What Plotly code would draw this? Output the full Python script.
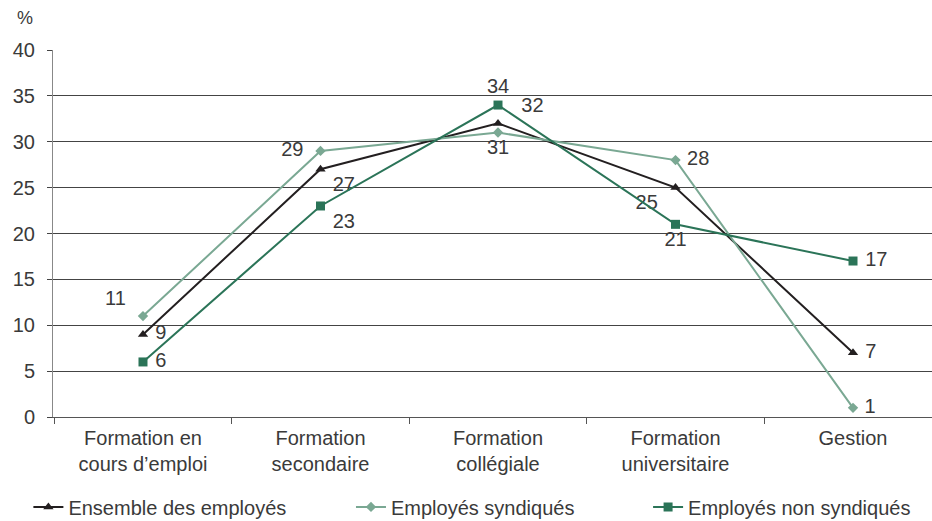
import plotly.graph_objects as go

categories = ["Formation en<br>cours d’emploi", "Formation<br>secondaire", "Formation<br>collégiale",
              "Formation<br>universitaire", "Gestion"]
ensemble = [9, 27, 32, 25, 7]
syndiques = [11, 29, 31, 28, 1]
non_syndiques = [6, 23, 34, 21, 17]

pos_ensemble = ["middle right", "bottom right", "top right", "bottom left", "middle right"]
pos_synd = ["top left", "middle left", "bottom center", "middle right", "middle right"]
pos_non = ["middle right", "bottom right", "top center", "bottom center", "middle right"]

BLACK = "#231f20"
LIGHT = "#7aa893"
DARK = "#2b7458"
TXT = "#3a3a3a"
FONT = "Liberation Sans"


def labels(vals, pos):
    out = []
    for v, p in zip(vals, pos):
        s = str(v)
        if p == "top right":
            s = "   " + s
        elif p.endswith("right"):
            s = " " + s
        elif p.endswith("left"):
            s = s + "  "
        out.append(s)
    return out


fig = go.Figure()
series = [
    ("Ensemble des employés", ensemble, pos_ensemble, BLACK, "triangle-up", 9, "legend"),
    ("Employés syndiqués", syndiques, pos_synd, LIGHT, "diamond", 8, "legend2"),
    ("Employés non syndiqués", non_syndiques, pos_non, DARK, "square", 9, "legend3"),
]
for name, vals, pos, color, sym, size, leg in series:
    fig.add_trace(go.Scatter(x=categories, y=vals, name=name, legend=leg,
                             mode="lines+markers+text", text=labels(vals, pos),
                             textposition=pos,
                             textfont=dict(size=20, color=TXT, family=FONT),
                             line=dict(color=color, width=2),
                             marker=dict(symbol=sym, size=size, color=color)))

legend_common = dict(orientation="h", xanchor="left", y=-0.245, yanchor="middle",
                     font=dict(size=20, color=TXT), itemwidth=30, bgcolor="rgba(0,0,0,0)")

fig.update_layout(
    width=932, height=521,
    margin=dict(l=53, r=0, t=50, b=104, autoexpand=False),
    plot_bgcolor="white", paper_bgcolor="white",
    font=dict(family=FONT, size=20, color=TXT),
    showlegend=True,
    legend=dict(x=-0.028, **legend_common),
    legend2=dict(x=0.339, **legend_common),
    legend3=dict(x=0.677, **legend_common),
    xaxis=dict(range=[-0.507, 4.445], showgrid=False, showline=True, linecolor="#555", linewidth=1,
               ticks="outside", ticklen=6, tickcolor="#555", tickson="boundaries",
               ticklabelstandoff=3,
               tickfont=dict(size=20, color=TXT)),
    yaxis=dict(range=[0, 40], dtick=5, showgrid=True, gridcolor="#444", gridwidth=1,
               showline=True, linecolor="#888", linewidth=1, zeroline=False,
               ticks="outside", ticklen=5, tickcolor="#444", ticklabelstandoff=8,
               tickfont=dict(size=20, color=TXT)),
    annotations=[dict(text="%", xref="paper", yref="paper", x=-0.043, y=1.088,
                      xanchor="left", yanchor="middle", showarrow=False,
                      font=dict(size=18, color=TXT))],
)

fig.write_html("out.html")
